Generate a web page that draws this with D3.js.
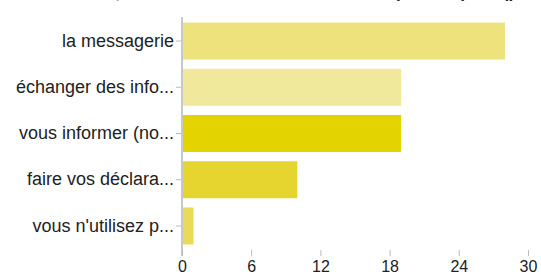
<!DOCTYPE html>
<html>
<head>
<meta charset="utf-8">
<script src="https://cdn.jsdelivr.net/npm/d3@7"></script>
<style>
  body { margin: 0; background: #fff; }
  svg { display: block; font-family: "Liberation Sans", Arial, sans-serif; }
</style>
</head>
<body>
<svg width="541" height="275"></svg>
<script>
// catégories et valeurs
const categories = [
  "la messagerie",
  "échanger des info...",
  "vous informer (no...",
  "faire vos déclara...",
  "vous n'utilisez p...",
];
const values = [28, 19, 19, 10, 1];
const barColors = ["#ede27b", "#f0e89b", "#e3d300", "#e6d52e", "#e9db57"];
const xTicks = [0, 6, 12, 18, 24, 30];
const titleText = "Sur internet, vous utilisez surtout les services publics pour (plusieurs réponses)";

const svg = d3.select("svg");

const area = { left: 182, right: 528, top: 17, bottom: 250 };

// titre coupé en haut de l'image
svg.append("text")
  .attr("x", 20)
  .attr("y", -2)
  .style("font-size", "17px")
  .style("font-weight", "bold")
  .style("fill", "#222")
  .text(titleText);

const scX = d3.scaleLinear()
  .domain([0, 30])
  .range([area.left, area.right]);

const scY = d3.scaleBand()
  .domain(categories)
  .range([area.top, area.bottom])
  .paddingInner(0.2)
  .paddingOuter(0.12);

// barres
svg.append("g")
  .selectAll("rect")
  .data(categories)
  .enter()
  .append("rect")
  .attr("x", scX(0))
  .attr("y", (d) => scY(d))
  .attr("width", (d, i) => scX(values[i]) - scX(0))
  .attr("height", scY.bandwidth())
  .style("fill", (d, i) => barColors[i]);

// axe Y
const axisY = svg.append("g")
  .attr("transform", `translate(${area.left}, 0)`)
  .call(d3.axisLeft(scY).tickSize(6).tickPadding(2).tickSizeOuter(0));
axisY.select(".domain").remove();
axisY.selectAll(".tick line").attr("stroke", "#bbb");
axisY.selectAll("text")
  .style("font-size", "18px")
  .style("fill", "#222")
  .attr("font-family", null);

svg.append("line")
  .attr("x1", area.left).attr("x2", area.left)
  .attr("y1", area.top).attr("y2", area.bottom + 6)
  .attr("stroke", "#c8c8c8")
  .attr("stroke-width", 2);

// axe X
const axisX = svg.append("g")
  .attr("transform", `translate(0, ${area.bottom})`)
  .call(d3.axisBottom(scX).tickValues(xTicks).tickSize(6).tickPadding(5).tickSizeOuter(0));
axisX.select(".domain").remove();
axisX.selectAll(".tick line").attr("stroke", "#bbb");
axisX.selectAll("text")
  .style("font-size", "16px")
  .style("fill", "#222")
  .attr("font-family", null);
</script>
</body>
</html>
